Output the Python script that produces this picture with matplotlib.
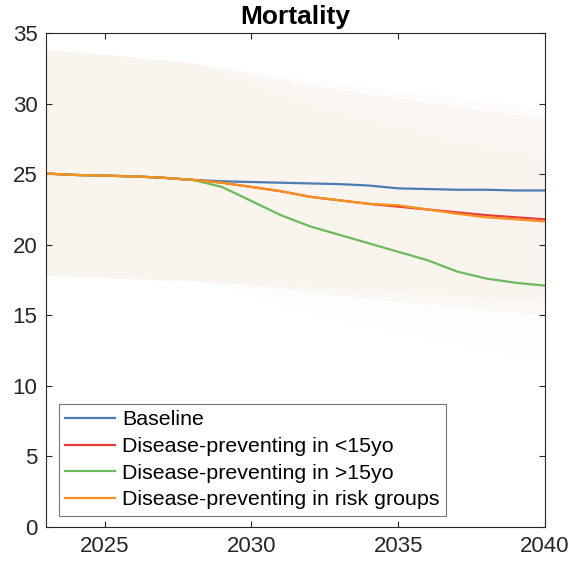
import matplotlib
matplotlib.use('Agg')
import matplotlib.pyplot as plt

plt.rcParams['font.family'] = ['Liberation Sans', 'DejaVu Sans']

years = list(range(2023, 2041))

# mortality per scenario
baseline = [25.05, 24.95, 24.9, 24.85, 24.75, 24.6, 24.5, 24.45, 24.4, 24.35,
            24.3, 24.2, 24.0, 23.95, 23.9, 23.9, 23.85, 23.85]
dp_under15 = [25.05, 24.95, 24.9, 24.85, 24.75, 24.6, 24.4, 24.1, 23.8, 23.4,
              23.15, 22.9, 22.7, 22.5, 22.3, 22.1, 21.95, 21.8]
dp_over15 = [25.05, 24.95, 24.9, 24.85, 24.75, 24.6, 24.1, 23.1, 22.1, 21.3,
             20.7, 20.1, 19.5, 18.9, 18.1, 17.6, 17.3, 17.1]
dp_risk = [25.05, 24.95, 24.9, 24.85, 24.75, 24.6, 24.4, 24.1, 23.8, 23.4,
           23.15, 22.9, 22.8, 22.5, 22.2, 21.95, 21.8, 21.65]

# uncertainty bounds (upper / lower) per scenario
baseline_hi = [33.85, 33.7, 33.5, 33.3, 33.1, 32.9, 32.6, 32.3, 32.0, 31.7,
               31.5, 31.2, 30.9, 30.7, 30.4, 30.2, 29.9, 29.7]
baseline_lo = [17.8, 17.75, 17.7, 17.6, 17.5, 17.45, 17.35, 17.25, 17.15, 17.0,
               16.9, 16.8, 16.7, 16.5, 16.4, 16.25, 16.1, 16.0]
under15_hi = [33.85, 33.7, 33.5, 33.3, 33.1, 32.9, 32.5, 32.1, 31.7, 31.3,
              31.0, 30.7, 30.4, 30.1, 29.8, 29.5, 29.2, 29.0]
under15_lo = [17.8, 17.75, 17.7, 17.6, 17.5, 17.45, 17.3, 17.1, 16.9, 16.6,
              16.4, 16.2, 16.0, 15.8, 15.6, 15.4, 15.2, 15.0]
over15_hi = [33.85, 33.7, 33.5, 33.3, 33.1, 32.9, 32.3, 31.5, 30.7, 30.0,
             29.5, 29.0, 28.5, 28.0, 27.4, 27.0, 26.7, 26.4]
over15_lo = [17.8, 17.75, 17.7, 17.6, 17.5, 17.45, 17.1, 16.5, 15.8, 15.2,
             14.8, 14.3, 13.9, 13.5, 13.0, 12.6, 12.3, 12.0]
risk_hi = [33.85, 33.7, 33.5, 33.3, 33.1, 32.9, 32.5, 32.1, 31.7, 31.3,
           31.0, 30.7, 30.4, 30.1, 29.8, 29.5, 29.2, 29.0]
risk_lo = [17.8, 17.75, 17.7, 17.6, 17.5, 17.45, 17.3, 17.1, 16.9, 16.6,
           16.4, 16.2, 16.0, 15.8, 15.6, 15.4, 15.2, 15.0]

labels = ['Baseline', 'Disease-preventing in <15yo',
          'Disease-preventing in >15yo', 'Disease-preventing in risk groups']
colors = ['#4a7db3', '#e63c3c', '#6cbb5a', '#f7921e']
band_colors = ['#e8b890', '#f0a080', '#d8c0a0', '#f5b070']

series = [baseline, dp_under15, dp_over15, dp_risk]
bands = [(baseline_lo, baseline_hi), (under15_lo, under15_hi),
         (over15_lo, over15_hi), (risk_lo, risk_hi)]

fig = plt.figure(figsize=(5.72, 5.62), dpi=100)
ax = fig.add_axes([0.080, 0.0628, 0.873, 0.878])

for (lo, hi), c in zip(bands, band_colors):
    ax.fill_between(years, lo, hi, color=c, alpha=0.03, linewidth=0)

for vals, c, lab in zip(series, colors, labels):
    ax.plot(years, vals, color=c, lw=1.6, label=lab)

ax.set_xlim(2023, 2040)
ax.set_ylim(0, 35)
ax.set_xticks([2025, 2030, 2035, 2040])
ax.set_yticks(range(0, 36, 5))
ax.tick_params(direction='in', length=4, width=0.8, top=True, right=True,
               labelsize=16, colors='#262626', pad=7)
ax.tick_params(axis='y', pad=6)
for s in ax.spines.values():
    s.set_color('#262626')
    s.set_linewidth(0.8)

ax.set_title('Mortality', fontsize=19, fontweight='bold', pad=7)

leg = ax.legend(loc='lower left', bbox_to_anchor=(0.026, 0.022), fontsize=15.4,
                frameon=True, fancybox=False, edgecolor='#555555',
                handlelength=2.35, handletextpad=0.3, labelspacing=0.36,
                borderpad=0.3, borderaxespad=0)
leg.get_frame().set_linewidth(0.8)

fig.savefig('out.png', dpi=100)
